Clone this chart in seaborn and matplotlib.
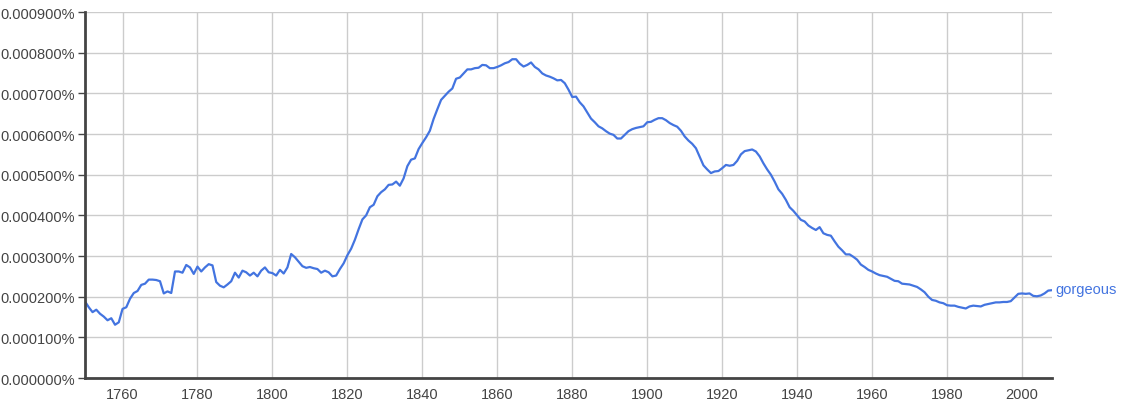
import numpy as np
import pandas as pd
import matplotlib as mpl
import matplotlib.pyplot as plt
import seaborn as sns
mpl.use('Agg')

# ngram frequency of "gorgeous", in units of 0.0001 %
start_year = 1750
freq = [
    1.88, 1.74, 1.62, 1.68, 1.58, 1.51, 1.42, 1.47, 1.31, 1.37,  # 1750s
    1.70, 1.74, 1.95, 2.09, 2.14, 2.29, 2.32, 2.42, 2.42, 2.41,  # 1760s
    2.38, 2.08, 2.13, 2.09, 2.62, 2.62, 2.59, 2.78, 2.72, 2.56,  # 1770s
    2.74, 2.62, 2.72, 2.80, 2.77, 2.36, 2.27, 2.23, 2.30, 2.38,  # 1780s
    2.59, 2.47, 2.64, 2.60, 2.52, 2.59, 2.50, 2.64, 2.72, 2.60,  # 1790s
    2.58, 2.52, 2.66, 2.57, 2.72, 3.05, 2.97, 2.86, 2.75, 2.71,  # 1800s
    2.73, 2.70, 2.68, 2.59, 2.64, 2.60, 2.50, 2.52, 2.68, 2.82,  # 1810s
    3.02, 3.18, 3.40, 3.66, 3.90, 4.00, 4.20, 4.26, 4.47, 4.57,  # 1820s
    4.64, 4.75, 4.76, 4.83, 4.73, 4.91, 5.21, 5.37, 5.40, 5.63,  # 1830s
    5.78, 5.92, 6.08, 6.37, 6.61, 6.84, 6.94, 7.04, 7.12, 7.36,  # 1840s
    7.39, 7.49, 7.59, 7.59, 7.62, 7.63, 7.70, 7.69, 7.62, 7.62,  # 1850s
    7.65, 7.69, 7.74, 7.77, 7.84, 7.84, 7.73, 7.66, 7.70, 7.76,  # 1860s
    7.65, 7.59, 7.49, 7.44, 7.41, 7.37, 7.32, 7.33, 7.25, 7.09,  # 1870s
    6.91, 6.92, 6.78, 6.68, 6.53, 6.38, 6.29, 6.19, 6.14, 6.07,  # 1880s
    6.01, 5.98, 5.89, 5.89, 5.98, 6.07, 6.12, 6.15, 6.17, 6.19,  # 1890s
    6.29, 6.30, 6.35, 6.39, 6.39, 6.34, 6.27, 6.22, 6.18, 6.08,  # 1900s
    5.94, 5.84, 5.76, 5.65, 5.44, 5.23, 5.13, 5.04, 5.08, 5.09,  # 1910s
    5.16, 5.24, 5.22, 5.24, 5.34, 5.50, 5.58, 5.60, 5.62, 5.57,  # 1920s
    5.45, 5.28, 5.13, 5.00, 4.83, 4.64, 4.53, 4.38, 4.20, 4.11,  # 1930s
    4.00, 3.89, 3.85, 3.75, 3.69, 3.64, 3.71, 3.56, 3.52, 3.50,  # 1940s
    3.36, 3.23, 3.14, 3.04, 3.04, 2.98, 2.91, 2.79, 2.73, 2.66,  # 1950s
    2.62, 2.57, 2.53, 2.51, 2.49, 2.44, 2.39, 2.38, 2.32, 2.31,  # 1960s
    2.30, 2.27, 2.24, 2.18, 2.11, 2.00, 1.92, 1.90, 1.86, 1.84,  # 1970s
    1.79, 1.78, 1.78, 1.75, 1.73, 1.71, 1.76, 1.78, 1.77, 1.76,  # 1980s
    1.80, 1.82, 1.84, 1.86, 1.86, 1.87, 1.87, 1.89, 1.98, 2.07,  # 1990s
    2.08, 2.07, 2.08, 2.02, 2.01, 2.03, 2.08, 2.15, 2.16,        # 2000s
]
years = list(range(start_year, start_year + len(freq)))
word = 'gorgeous'
x_ticks = [1760, 1780, 1800, 1820, 1840, 1860, 1880, 1900, 1920, 1940, 1960, 1980, 2000]

df = pd.DataFrame({'year': years, 'pct': np.array(freq) * 1e-4})

sns.set_style('white')
plt.rcParams['font.family'] = ['Liberation Sans', 'DejaVu Sans']
blue = '#4374e0'

fig = plt.figure(figsize=(11.25, 4.14), dpi=100)
ax = fig.add_axes([0.0756, 0.0845, 0.8595, 0.884])
sns.lineplot(data=df, x='year', y='pct', color=blue, linewidth=1.6, ax=ax)

ax.set_xlim(1750, 2008)
ax.set_ylim(0, 0.0009)
ax.set_xticks(x_ticks)
ax.set_yticks(np.arange(0, 0.00091, 0.0001))
ax.yaxis.set_major_formatter(mpl.ticker.FuncFormatter(lambda v, p: '%.6f%%' % v))
ax.grid(True, color='#cccccc', linewidth=1)
ax.set_axisbelow(True)
ax.set_xlabel('')
ax.set_ylabel('')

for s in ['top', 'right']:
    ax.spines[s].set_visible(False)
for s in ['left', 'bottom']:
    ax.spines[s].set_color('#444444')
    ax.spines[s].set_linewidth(2)
ax.tick_params(axis='y', left=True, length=5, width=1, color='#444444',
               labelsize=10.5, labelcolor='#444444', pad=2)
ax.tick_params(axis='x', bottom=False, labelsize=10.5, labelcolor='#444444', pad=3)

ax.text(years[-1] + 0.8, df['pct'].iloc[-1] + 0.000003, word, color=blue,
        fontsize=10.5, va='center', ha='left')

plt.savefig('out.png', dpi=100)
